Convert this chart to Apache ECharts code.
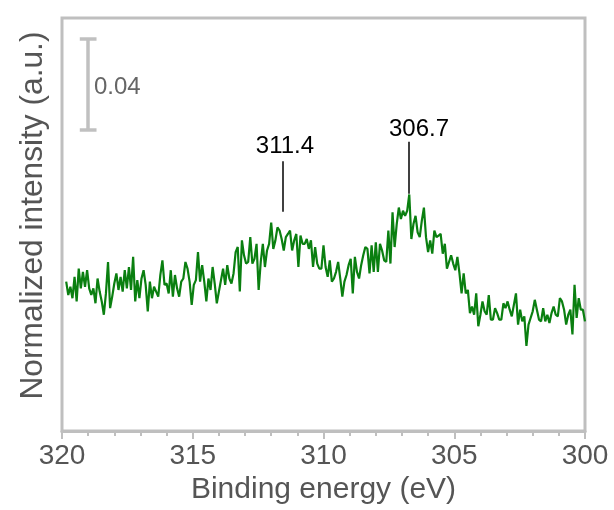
<!DOCTYPE html>
<html><head><meta charset="utf-8">
<script src="https://cdn.jsdelivr.net/npm/echarts@6/dist/echarts.min.js"></script>
<style>html,body{margin:0;padding:0;background:#fff}#c{width:614px;height:510px}</style>
</head><body><div id="c"></div>
<script>
// Binding energy grid (eV): first point and step
const energyStart = 319.84;
const energyStep = 0.08;
// Normalized intensity (a.u.), high to low binding energy
const intensity = [
0.0651,0.0593,0.0629,0.0579,0.0672,0.0565,0.0708,0.0622,0.0694,0.0629,
0.0701,0.0622,0.0593,0.0622,0.0557,0.0665,0.0608,0.0565,0.0507,0.0600,
0.0737,0.0536,0.0586,0.0643,0.0687,0.0615,0.0672,0.0608,0.0701,0.0622,
0.0715,0.0615,0.0759,0.0565,0.0658,0.0579,0.0665,0.0701,0.0637,0.0522,
0.0651,0.0579,
0.0629,0.0608,0.0586,0.0680,0.0744,0.0637,0.0643,0.0600,0.0701,0.0586,
0.0680,0.0622,0.0586,0.0651,0.0665,0.0737,0.0708,0.0651,0.0550,0.0637,
0.0658,0.0780,0.0651,0.0723,0.0651,0.0565,0.0665,0.0615,0.0715,0.0643,
0.0557,0.0608,0.0658,0.0708,0.0637,0.0723,0.0665,0.0643,0.0687,0.0780,
0.0802,0.0608,
0.0831,0.0766,0.0730,0.0737,0.0845,0.0730,0.0751,0.0816,0.0615,0.0737,
0.0816,0.0715,0.0787,0.0816,0.0909,0.0794,0.0831,0.0888,0.0874,0.0837,
0.0787,0.0845,0.0859,0.0874,0.0787,0.0831,0.0859,0.0715,0.0852,0.0816,
0.0816,0.0837,0.0794,0.0831,0.0715,0.0802,0.0730,0.0708,0.0708,0.0809,
0.0715,0.0672,
0.0744,0.0651,0.0665,0.0694,0.0737,0.0665,0.0586,0.0651,0.0680,0.0723,
0.0751,0.0600,0.0759,0.0694,0.0665,0.0723,0.0766,0.0802,0.0794,0.0687,
0.0809,0.0694,0.0823,0.0694,0.0816,0.0787,0.0744,0.0737,0.0874,0.0730,
0.0953,0.0802,0.0902,0.0974,0.0924,0.0960,0.0938,0.0960,0.1031,0.0837,
0.0902,0.0938,
0.0866,0.0845,0.0917,0.0974,0.0845,0.0780,0.0831,0.0773,0.0874,0.0845,
0.0852,0.0859,0.0773,0.0816,0.0708,0.0737,0.0766,0.0730,0.0701,0.0759,
0.0687,0.0600,0.0687,0.0600,0.0615,0.0514,0.0543,0.0507,0.0600,0.0457,
0.0507,0.0565,0.0522,0.0507,0.0593,0.0486,0.0486,0.0536,0.0514,0.0486,
0.0486,0.0557,
0.0536,0.0565,0.0529,0.0500,0.0550,0.0600,0.0464,0.0529,0.0478,0.0500,
0.0371,0.0464,0.0493,0.0522,0.0572,0.0529,0.0486,0.0478,0.0536,0.0478,
0.0507,0.0471,0.0514,0.0543,0.0507,0.0500,0.0579,0.0565,0.0529,0.0464,
0.0507,0.0529,0.0421,0.0637,0.0493,0.0579,0.0529,0.0529,0.0478
];
// Peak annotations
const peakLabels = ['311.4', '306.7'];
const peakLineEnergies = [311.55, 306.73];
const peakLineBottom = [0.0956, 0.1034];
const peakLineTop = [0.1176, 0.1261];
const peakLabelShift = [[2, 0], [10, 0]];
const peakLabelGap = [3, 0];
// Scale bar
const scaleBarLabel = '0.04';
const scaleBarValue = 0.04;
const scaleBarEnergy = 319.0;
const scaleBarBottom = 0.1311;
const scaleBarCapHalf = 0.32;
// Axis
const xTicks = [300, 305, 310, 315, 320];

const seriesData = intensity.map((v, i) => [+(energyStart - energyStep * i).toFixed(2), v]);

const peakLines = peakLineEnergies.map((e, k) => [
  {coord: [e, peakLineBottom[k]]},
  {coord: [e, peakLineTop[k]]}
]);
const peakTexts = peakLineEnergies.map((e, k) => ({
  coord: [e, peakLineTop[k]], symbol: 'circle', symbolSize: 0,
  itemStyle: {color: 'rgba(0,0,0,0)'},
  label: {show: true, position: 'top', distance: peakLabelGap[k], offset: peakLabelShift[k],
    formatter: peakLabels[k], color: '#000', fontSize: 24, fontFamily: 'Liberation Sans'}
}));
const barStyle = {color: '#c0c0c0', width: 3.5, type: 'solid'};
const scaleLines = [
  [{coord: [scaleBarEnergy, scaleBarBottom], lineStyle: barStyle}, {coord: [scaleBarEnergy, scaleBarBottom + scaleBarValue]}],
  [{coord: [scaleBarEnergy + scaleBarCapHalf, scaleBarBottom], lineStyle: barStyle}, {coord: [scaleBarEnergy - scaleBarCapHalf, scaleBarBottom]}],
  [{coord: [scaleBarEnergy + scaleBarCapHalf, scaleBarBottom + scaleBarValue], lineStyle: barStyle}, {coord: [scaleBarEnergy - scaleBarCapHalf, scaleBarBottom + scaleBarValue]}]
];

const chart = echarts.init(document.getElementById('c'), null, {renderer: 'canvas'});
chart.setOption({
  animation: false,
  textStyle: {fontFamily: 'Liberation Sans'},
  grid: {left: 62, right: 29, top: 18, bottom: 74, show: true, borderColor: '#bfbfbf', borderWidth: 3, backgroundColor: 'transparent'},
  xAxis: {
    type: 'value', min: 300, max: 320, interval: 5, inverse: true,
    axisLine: {show: true, lineStyle: {color: '#bfbfbf', width: 3}},
    axisTick: {show: true, length: 8, lineStyle: {color: '#bfbfbf', width: 2}},
    minorTick: {show: true, splitNumber: 5, length: 5, lineStyle: {color: '#bfbfbf', width: 2}},
    splitLine: {show: false},
    axisLabel: {fontSize: 28, color: '#555', margin: 11, fontFamily: 'Liberation Sans', formatter: v => xTicks.includes(v) ? String(v) : ''},
    name: 'Binding energy (eV)', nameLocation: 'middle', nameGap: 41,
    nameTextStyle: {fontSize: 30, color: '#555', fontFamily: 'Liberation Sans'}
  },
  yAxis: {
    type: 'value', min: 0, max: 0.18,
    axisLine: {show: false}, axisTick: {show: false}, axisLabel: {show: false}, splitLine: {show: false},
    name: 'Normalized intensity (a.u.)', nameLocation: 'middle', nameGap: 13,
    nameTextStyle: {fontSize: 31.7, color: '#555', fontFamily: 'Liberation Sans', padding: [0, 0, 0, 18]}
  },
  graphic: [{
    type: 'text', x: 94, y: 87,
    style: {text: scaleBarLabel, fontSize: 24, fill: '#666', fontFamily: 'Liberation Sans', verticalAlign: 'middle', align: 'left'}
  }],
  series: [{
    type: 'line', data: seriesData, showSymbol: false, symbol: 'none',
    lineStyle: {color: '#0a7f10', width: 2.2}, itemStyle: {color: '#0a7f10'},
    markLine: {
      silent: true, symbol: ['none', 'none'], animation: false,
      label: {show: false},
      lineStyle: {color: '#000', width: 1.5, type: 'solid'},
      data: peakLines.concat(scaleLines)
    },
    markPoint: {silent: true, animation: false, data: peakTexts}
  }]
});
</script></body></html>
